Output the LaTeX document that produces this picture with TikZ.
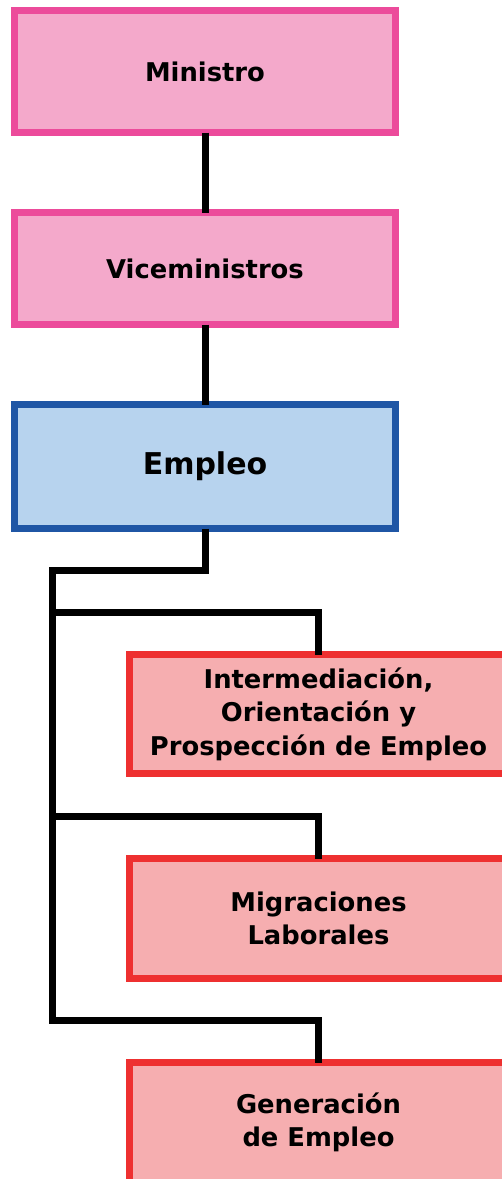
\documentclass[tikz,border=0pt]{standalone}
\usepackage{fontspec}
\setmainfont{DejaVu Sans}
\definecolor{pinkfill}{HTML}{F4A9CB}
\definecolor{pinkline}{HTML}{EC4B9B}
\definecolor{bluefill}{HTML}{B7D3EE}
\definecolor{blueline}{HTML}{1F56A5}
\definecolor{redfill}{HTML}{F6AEB0}
\definecolor{redline}{HTML}{EE3030}
\tikzset{
  box/.style={rectangle, line width=7pt, inner sep=0pt, align=center,
    font=\bfseries\fontsize{25.8}{33.5}\selectfont},
  topbox/.style={box, fill=pinkfill, draw=pinkline, minimum width=381pt},
  midbox/.style={box, fill=bluefill, draw=blueline, minimum width=381pt,
    font=\bfseries\fontsize{30}{36}\selectfont},
  unitbox/.style={box, fill=redfill, draw=redline, minimum width=379pt, minimum height=120pt},
  conn/.style={line width=7pt, draw=black, line join=miter,
    shorten <=-3.5pt, shorten >=-3.5pt}
}
\begin{document}
\begin{tikzpicture}[x=1pt, y=-1pt]
\useasboundingbox (0,0) rectangle (502,1179);
\clip (0,0) rectangle (502,1179);
\fill[white] (0,0) rectangle (502,1179);
\node[topbox, minimum height=122pt] (min) at (205,71.5) {Ministro};
\node[topbox, minimum height=112pt] (vice) at (205,268.5) {Viceministros};
\node[midbox, minimum height=124pt] (emp) at (205,466.5) {Empleo};
\node[unitbox, minimum height=119pt] (inter) at (318.5,714) {Intermediación,\\Orientación y\\Prospección de Empleo};
\node[unitbox] (migr) at (318.5,918.5) {Migraciones\\Laborales};
\node[unitbox] (gen) at (318.5,1122.5) {Generación\\de Empleo};
\coordinate (j0) at (52.5,570);
\coordinate (j1) at (52.5,612);
\coordinate (j2) at (52.5,816);
\coordinate (j3) at (52.5,1020);
\draw[conn] (min.south) -- (vice.north);
\draw[conn] (vice.south) -- (emp.north);
\draw[conn] (emp.south) |- (j0) -- (j3) -| (gen.north);
\draw[conn, shorten <=0pt] (j1) -| (inter.north);
\draw[conn, shorten <=0pt] (j2) -| (migr.north);
\end{tikzpicture}
\end{document}
